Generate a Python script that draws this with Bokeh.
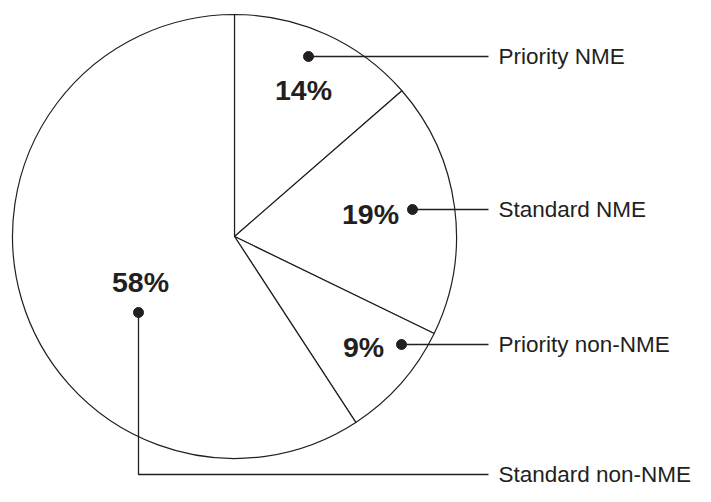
from bokeh.plotting import figure
from bokeh.models import Range1d
from bokeh.core.properties import value
from bokeh.embed import file_html
from bokeh.resources import INLINE
import math

# ---- data ----
categories = ["Priority NME", "Standard NME", "Priority non-NME", "Standard non-NME"]
shares = [13.6, 18.6, 8.6, 59.2]
pct_labels = ["14%", "19%", "9%", "58%"]

# ---- layout (pixels from the top-left of the chart, y downward) ----
W, H = 695, 486
def fx(sx): return sx
def fy(sy): return H - sy

center_s = (234, 236)
radius = 222
pct_pos_s = [(303, 89), (370, 213), (363, 346), (140, 281)]
dot_pos_s = [(308, 56), (412, 209), (401, 344), (138, 312)]
line_y_s = [56, 209, 344, 474]
line_end_sx = 488
label_sx = 498

INK = "#231f20"

p = figure(width=W, height=H, x_range=Range1d(0, W), y_range=Range1d(0, H),
           output_backend="svg", toolbar_location=None, min_border=0,
           x_axis_type=None, y_axis_type=None)
p.grid.visible = False
p.outline_line_color = None
p.background_fill_color = "white"
p.border_fill_color = "white"

# wedges
total = sum(shares)
starts, ends = [], []
cum = 0.0
for s in shares:
    starts.append(math.pi / 2 - 2 * math.pi * cum / total)
    cum += s
    ends.append(math.pi / 2 - 2 * math.pi * cum / total)

cx, cy = fx(center_s[0]), fy(center_s[1])
p.wedge(x=[cx] * 4, y=[cy] * 4, radius=radius, start_angle=starts, end_angle=ends,
        direction="clock", fill_color="white", line_color=INK, line_width=1.2)

# leader lines
for i, (dx, dy) in enumerate(dot_pos_s):
    ly = line_y_s[i]
    if i == 3:
        p.line(x=[fx(dx), fx(dx), fx(line_end_sx)], y=[fy(dy), fy(ly), fy(ly)],
               line_color=INK, line_width=1.3)
    else:
        p.line(x=[fx(dx), fx(line_end_sx)], y=[fy(dy), fy(ly)],
               line_color=INK, line_width=1.3)

p.scatter(x=[fx(d[0]) for d in dot_pos_s], y=[fy(d[1]) for d in dot_pos_s],
          size=10, fill_color=INK, line_color=INK)

# percent labels
p.text(x=[fx(q[0]) for q in pct_pos_s], y=[fy(q[1]) for q in pct_pos_s], text=pct_labels,
       text_font=value("Liberation Sans"), text_font_style="bold", text_font_size="28.5px",
       text_align="center", text_baseline="middle", text_color=INK)

# category labels
p.text(x=[fx(label_sx)] * 4, y=[fy(v) for v in line_y_s], text=categories,
       text_font=value("Liberation Sans"), text_font_size="22.5px",
       text_align="left", text_baseline="middle", text_color=INK)

open("out.html", "w").write(file_html(p, INLINE))
